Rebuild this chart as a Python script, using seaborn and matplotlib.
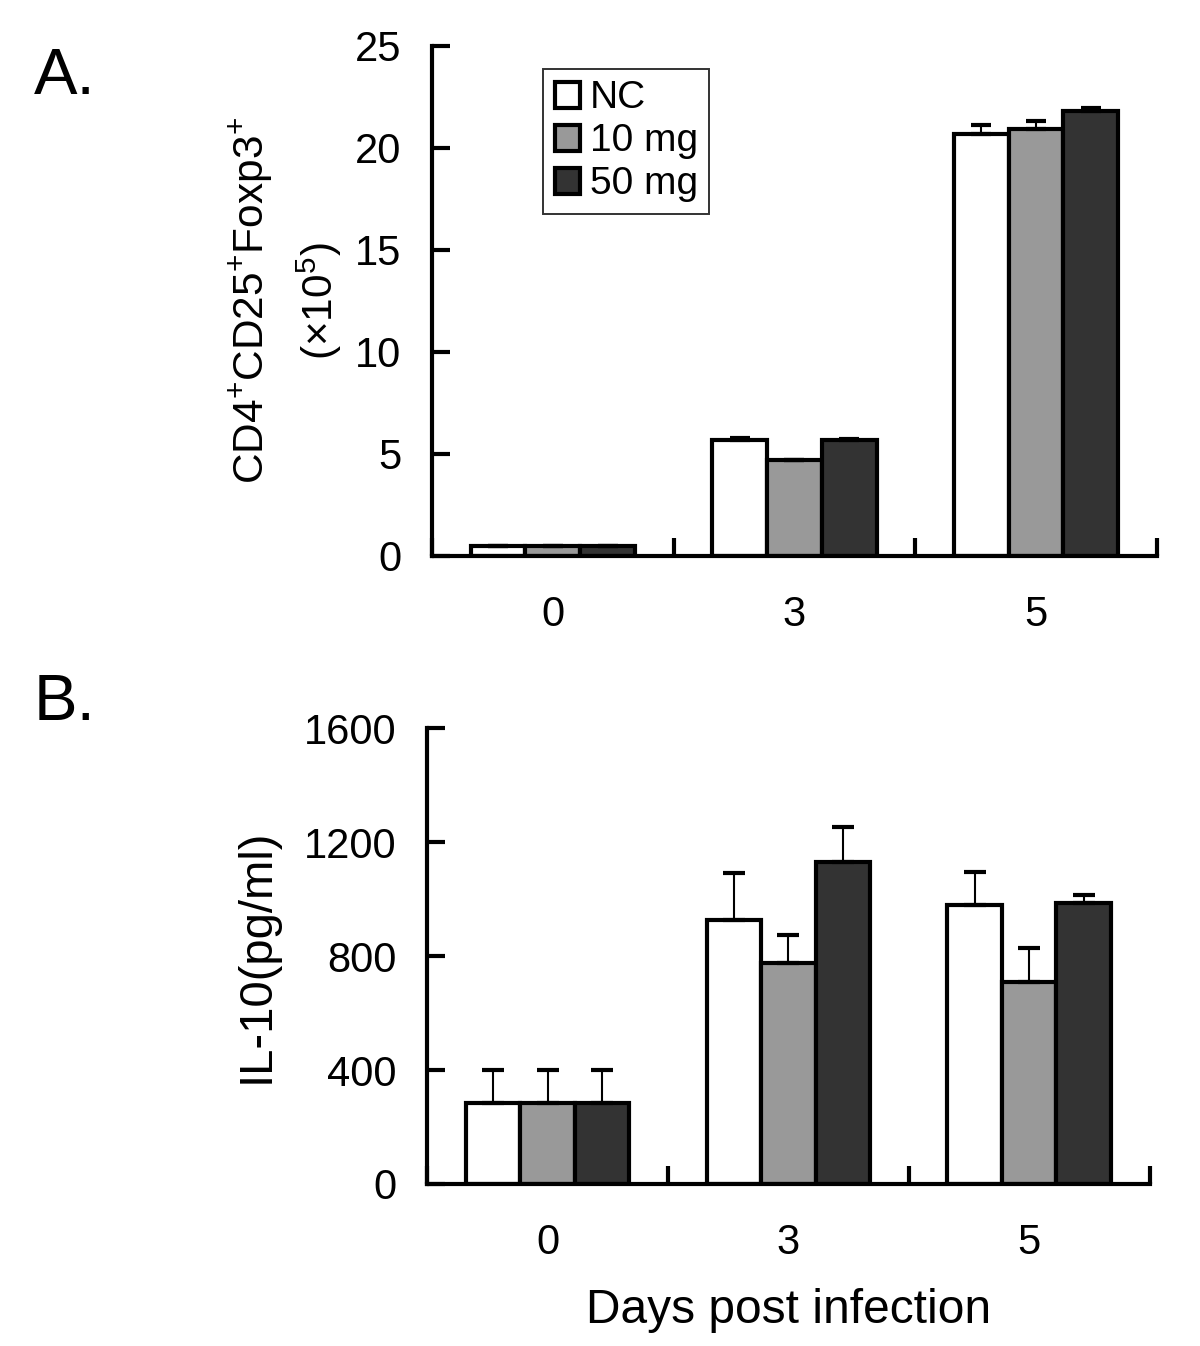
import matplotlib
matplotlib.use("Agg")
import matplotlib.pyplot as plt
from matplotlib.patches import Patch
import pandas as pd
import seaborn as sns

# valores
days = ["0", "3", "5"]
groups = ["NC", "10 mg", "50 mg"]
colors = ["#ffffff", "#999999", "#333333"]

treg_nc = [0.5, 5.7, 20.7]
treg_10 = [0.5, 4.7, 20.9]
treg_50 = [0.5, 5.7, 21.8]
treg_nc_err = [0.0, 0.1, 0.4]
treg_10_err = [0.0, 0.0, 0.4]
treg_50_err = [0.0, 0.05, 0.15]

il10_nc = [285, 925, 980]
il10_10 = [285, 775, 710]
il10_50 = [285, 1130, 985]
il10_nc_err = [115, 165, 115]
il10_10_err = [115, 100, 120]
il10_50_err = [115, 122, 30]


def long_table(means, errs):
    rows = []
    for g, m, e in zip(groups, means, errs):
        for d, v, s in zip(days, m, e):
            rows.append({"day": d, "group": g, "value": v, "err": s})
    return pd.DataFrame(rows)


treg = long_table([treg_nc, treg_10, treg_50], [treg_nc_err, treg_10_err, treg_50_err])
il10 = long_table([il10_nc, il10_10, il10_50], [il10_nc_err, il10_10_err, il10_50_err])

sns.set_style("ticks")
plt.rcParams["font.family"] = ["Liberation Sans", "DejaVu Sans"]
plt.rcParams["mathtext.fontset"] = "custom"
plt.rcParams["mathtext.rm"] = "Liberation Sans"
plt.rcParams["mathtext.it"] = "Liberation Sans"
for k in ["text.color", "axes.labelcolor", "xtick.color", "ytick.color", "axes.edgecolor"]:
    plt.rcParams[k] = "black"

LW = 3.0

fig = plt.figure(figsize=(12, 13.46), dpi=100)
ax1 = fig.add_axes([0.36, 0.587, 0.604, 0.379])
ax2 = fig.add_axes([0.356, 0.1204, 0.602, 0.3386])


def draw(ax, df, ymax, yticks, capsize):
    sns.barplot(data=df, x="day", y="value", hue="group", order=days,
                hue_order=groups, palette=colors, errorbar=None,
                edgecolor="black", linewidth=LW, width=0.68, gap=0,
                legend=False, ax=ax)
    # barras de error solo hacia arriba
    for cont, g in zip(ax.containers, groups):
        sub = df[df["group"] == g].set_index("day").loc[days]
        xs = [b.get_x() + b.get_width() / 2 for b in cont]
        ys = [b.get_height() for b in cont]
        errs = sub["err"].tolist()
        ax.errorbar(xs, ys, yerr=[[0] * len(errs), errs], fmt="none",
                    ecolor="black", elinewidth=1.5, capsize=capsize,
                    capthick=LW, zorder=1)
    ax.set_xlim(-0.5, 2.5)
    ax.set_ylim(0, ymax)
    ax.set_yticks(yticks)
    ax.set_xticks(range(len(days)))
    ax.set_xticklabels(days)
    ax.set_xticks([-0.5, 0.5, 1.5, 2.5], minor=True)
    ax.tick_params(axis="x", which="major", length=0, pad=28, labelsize=30)
    ax.tick_params(axis="x", which="minor", direction="in", length=13, width=LW)
    ax.tick_params(axis="y", direction="in", length=13, width=LW, pad=22,
                   labelsize=30)
    sns.despine(ax=ax)
    for s in ["left", "bottom"]:
        ax.spines[s].set_linewidth(LW)
    ax.set_xlabel("")


draw(ax1, treg, 25, [0, 5, 10, 15, 20, 25], 7)
draw(ax2, il10, 1600, [0, 400, 800, 1200, 1600], 8)

ax1.set_ylabel("CD4$^{+}$CD25$^{+}$Foxp3$^{+}$\n(\u00d710$^{5}$)",
               fontsize=30.5, labelpad=8, linespacing=1.5)
ax2.set_ylabel("IL-10(pg/ml)", fontsize=34, labelpad=18)
ax2.set_xlabel("Days post infection", fontsize=34.5, labelpad=18)

handles = [Patch(facecolor=c, edgecolor="black", linewidth=LW) for c in colors]
leg = ax1.legend(handles, groups, loc="upper left",
                 bbox_to_anchor=(0.153, 0.955), fontsize=28, frameon=True,
                 fancybox=False, handlelength=0.65, handleheight=0.65,
                 handletextpad=0.25, borderpad=0.3, labelspacing=0.18,
                 borderaxespad=0)
leg.get_frame().set_edgecolor("black")
leg.get_frame().set_linewidth(1.4)

fig.text(0.028, 0.965, "A.", fontsize=47, va="top", ha="left")
fig.text(0.028, 0.50, "B.", fontsize=47, va="top", ha="left")

plt.savefig("out.png", dpi=100)
